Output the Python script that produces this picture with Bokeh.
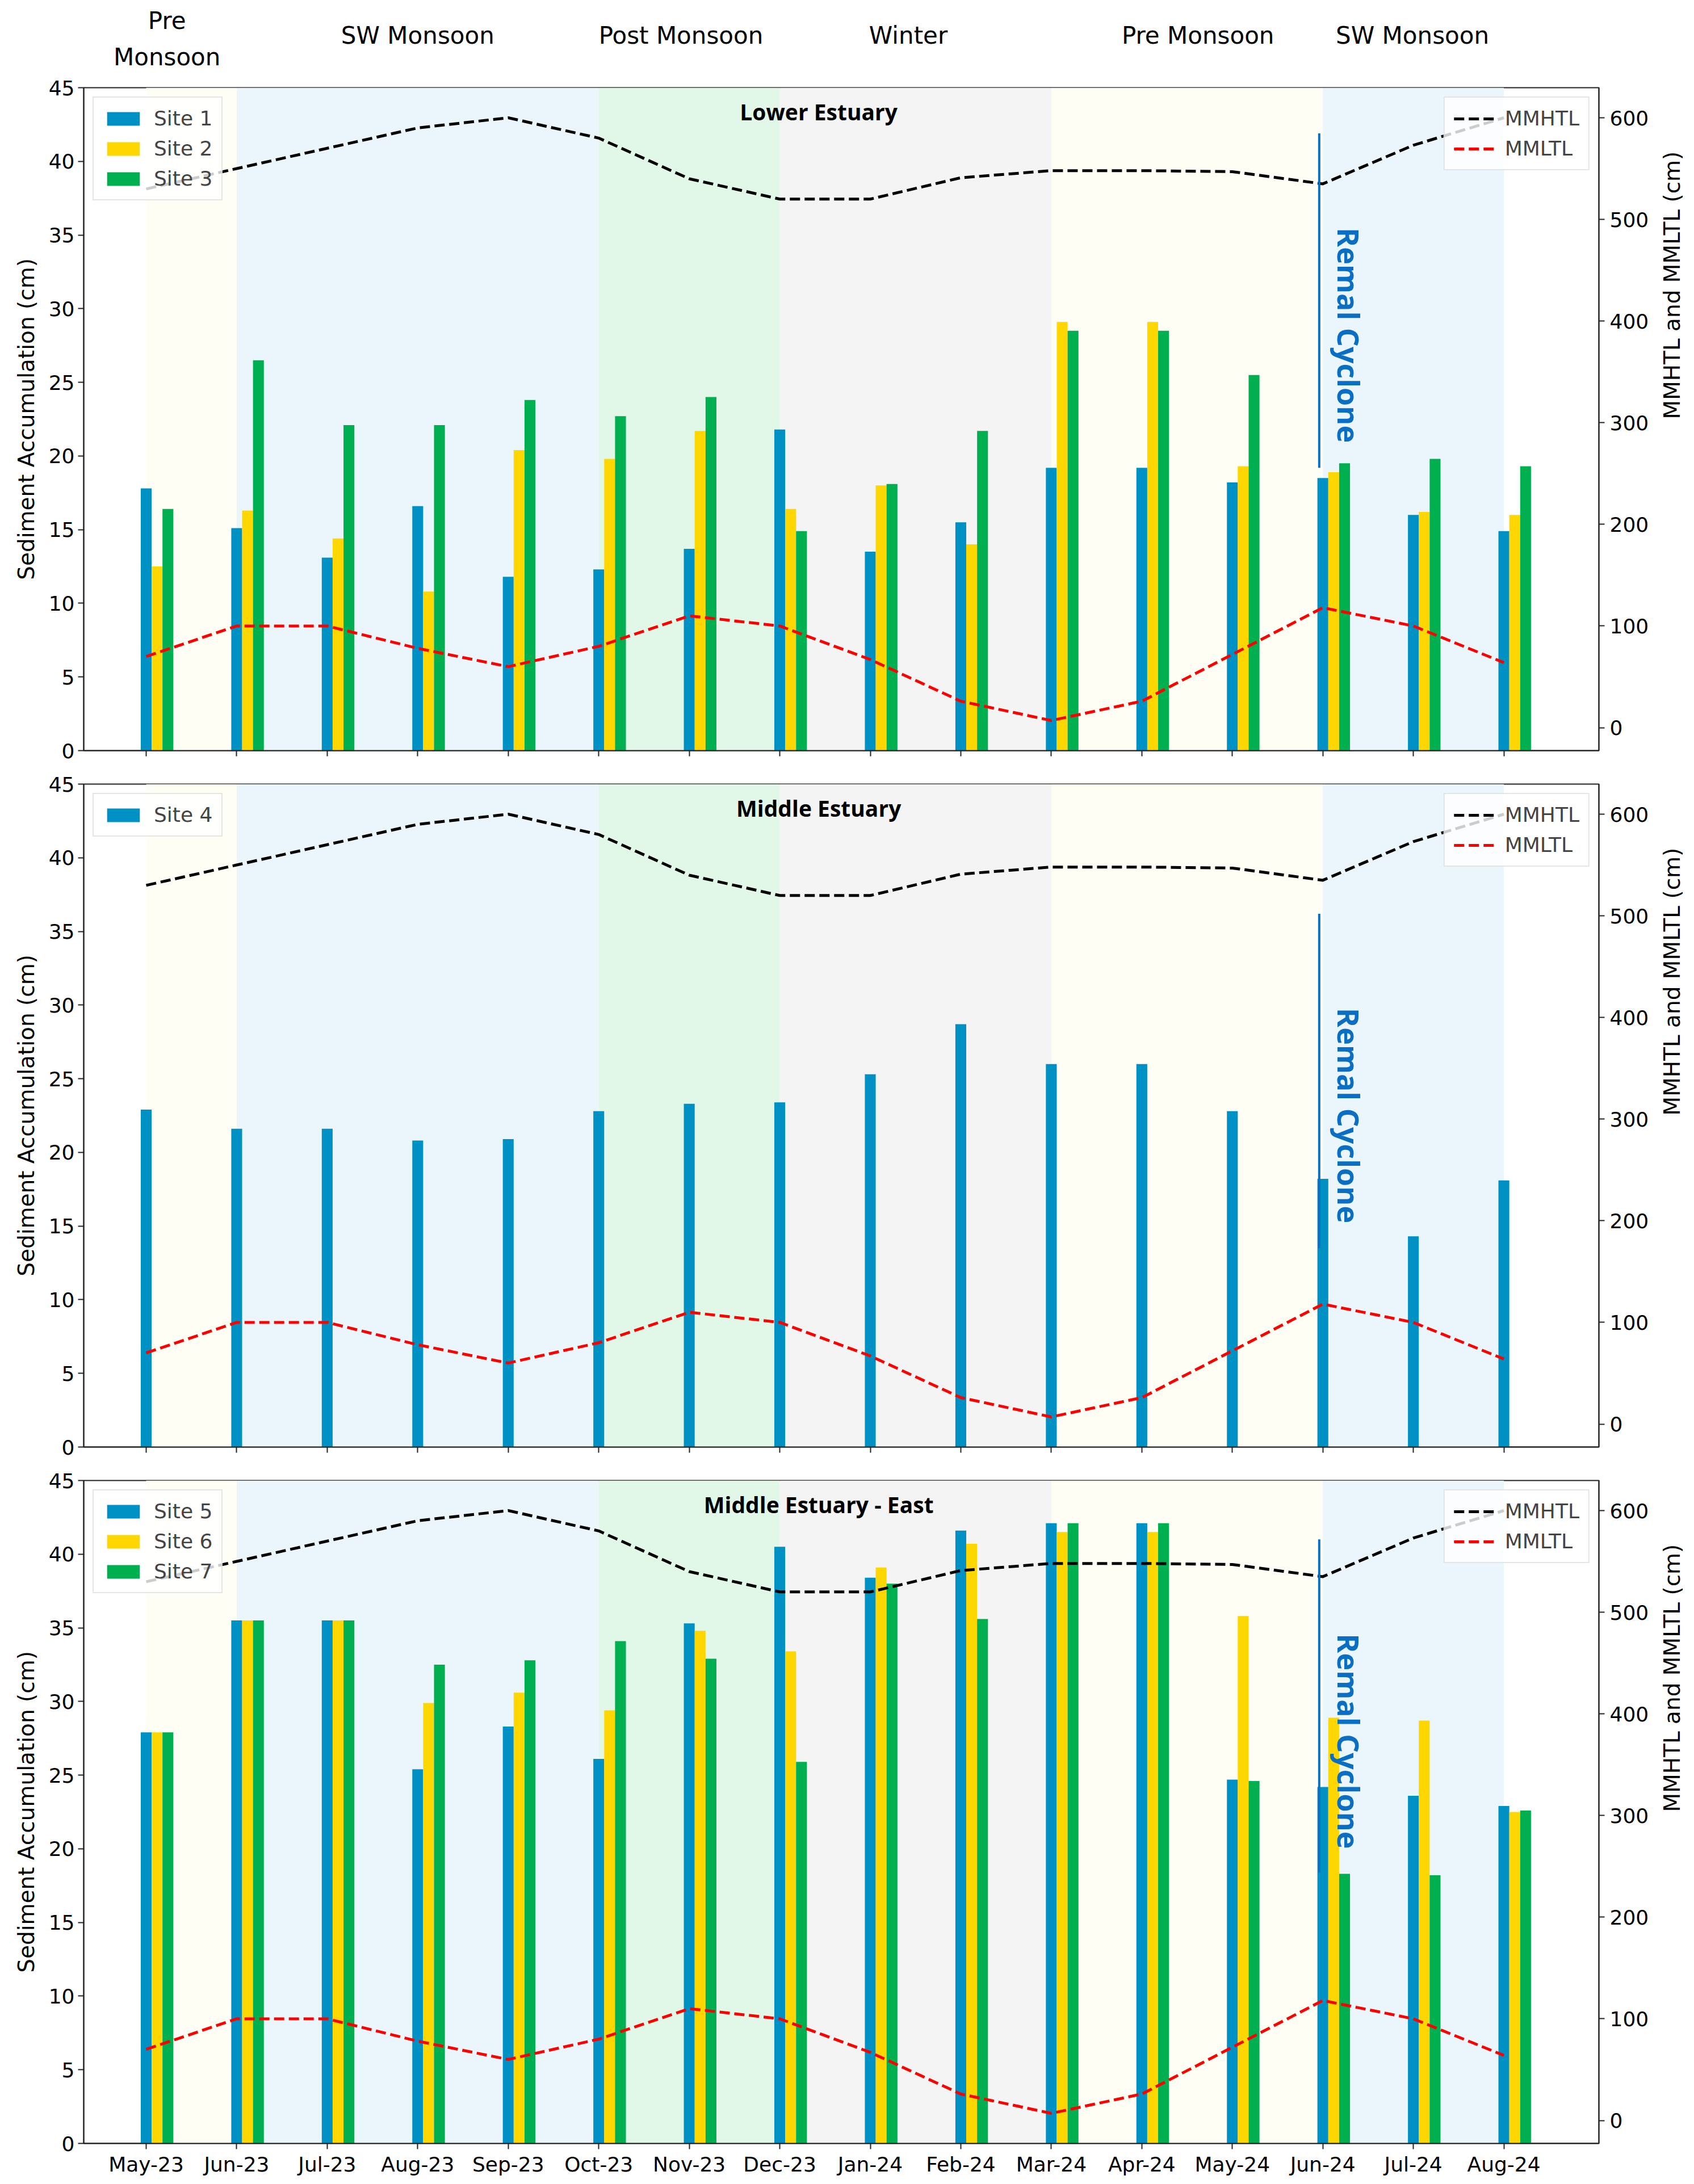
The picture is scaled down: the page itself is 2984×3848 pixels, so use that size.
from math import pi

from bokeh.core.properties import value
from bokeh.embed import file_html
from bokeh.layouts import column
from bokeh.models import (BoxAnnotation, CustomLabelingPolicy, FixedTicker, Label, Legend,
                          LegendItem, LinearAxis, Range1d)
from bokeh.plotting import figure
from bokeh.resources import INLINE

# ---- data ----
months = ["May-23", "Jun-23", "Jul-23", "Aug-23", "Sep-23", "Oct-23", "Nov-23", "Dec-23",
          "Jan-24", "Feb-24", "Mar-24", "Apr-24", "May-24", "Jun-24", "Jul-24", "Aug-24"]

mmhtl = [530, 550, 570, 590, 600, 580, 540, 520, 520, 541, 548, 548, 547, 535, 573, 600]
mmltl = [70, 100, 100, 78, 60, 80, 110, 100, 67, 26, 7, 26, 72, 118, 100, 64]

site1 = [17.8, 15.1, 13.1, 16.6, 11.8, 12.3, 13.7, 21.8, 13.5, 15.5, 19.2, 19.2, 18.2, 18.5, 16.0, 14.9]
site2 = [12.5, 16.3, 14.4, 10.8, 20.4, 19.8, 21.7, 16.4, 18.0, 14.0, 29.1, 29.1, 19.3, 18.9, 16.2, 16.0]
site3 = [16.4, 26.5, 22.1, 22.1, 23.8, 22.7, 24.0, 14.9, 18.1, 21.7, 28.5, 28.5, 25.5, 19.5, 19.8, 19.3]

site4 = [22.9, 21.6, 21.6, 20.8, 20.9, 22.8, 23.3, 23.4, 25.3, 28.7, 26.0, 26.0, 22.8, 18.2, 14.3, 18.1]

site5 = [27.9, 35.5, 35.5, 25.4, 28.3, 26.1, 35.3, 40.5, 38.4, 41.6, 42.1, 42.1, 24.7, 24.2, 23.6, 22.9]
site6 = [27.9, 35.5, 35.5, 29.9, 30.6, 29.4, 34.8, 33.4, 39.1, 40.7, 41.5, 41.5, 35.8, 28.9, 28.7, 22.5]
site7 = [27.9, 35.5, 35.5, 32.5, 32.8, 34.1, 32.9, 25.9, 38.0, 35.6, 42.1, 42.1, 24.6, 18.3, 18.2, 22.6]

panel_titles = ["Lower Estuary", "Middle Estuary", "Middle Estuary - East"]
panel_sites = [["Site 1", "Site 2", "Site 3"], ["Site 4"], ["Site 5", "Site 6", "Site 7"]]
panel_values = [[site1, site2, site3], [site4], [site5, site6, site7]]

season_names = ["Pre\nMonsoon", "SW Monsoon", "Post  Monsoon", "Winter", "Pre Monsoon", "SW Monsoon"]
season_start = ["May-23", "Jun-23", "Oct-23", "Dec-23", "Mar-24", "Jun-24"]
season_end = ["Jun-23", "Oct-23", "Dec-23", "Mar-24", "Jun-24", "Aug-24"]
season_label_x = [0.23, 3.0, 5.95, 8.42, 11.62, 13.99]
season_colors = ["#fefef4", "#eaf6fb", "#e1f8e8", "#f4f4f4", "#fefef4", "#eaf6fb"]

cyclone_month = "Jun-24"
cyclone_low = [19.2, 13.5, 18.4]
cyclone_high = [41.9, 36.2, 41.0]
cyclone_text_y = [28.2, 22.5, 27.3]

site_colors = ["#0091c4", "#ffd700", "#00b050"]
BAR_W = 0.12
FONT = "DejaVu Sans"
FRAME_W = 2669
FRAME_H = 1168
X_RANGE = Range1d(-0.69, 16.05)

xs = list(range(len(months)))


def season_header():
    # strip above the first panel holding the season names
    h = figure(x_range=X_RANGE, y_range=Range1d(0, 130),
               frame_width=FRAME_W, frame_height=130,
               min_border_left=147, min_border_right=150, min_border_top=0,
               min_border_bottom=0, x_axis_type=None, y_axis_type=None,
               output_backend="svg", toolbar_location=None)
    h.outline_line_color = None
    h.xgrid.visible = False
    h.ygrid.visible = False
    ys = [62 if "\n" in n else 68 for n in season_names]
    h.text(x=season_label_x, y=ys, text=season_names, text_font=value(FONT),
           text_font_size="42px", text_color="black", text_align="center",
           text_baseline="middle", text_line_height=1.3)
    return h


def make_panel(i):
    top_border = 24 if i == 0 else 32
    bottom_border = 55 if i == 2 else 25
    p = figure(x_range=X_RANGE, y_range=Range1d(0, 45),
               frame_width=FRAME_W, frame_height=FRAME_H,
               min_border_left=147, min_border_right=150,
               min_border_top=top_border, min_border_bottom=bottom_border,
               output_backend="svg", toolbar_location=None)
    p.xgrid.visible = False
    p.ygrid.visible = False
    p.outline_line_color = "#222222"
    p.outline_line_width = 2
    p.extra_y_ranges = {"tide": Range1d(-22.6, 629.6)}

    # season shading
    for s, e, c in zip(season_start, season_end, season_colors):
        p.add_layout(BoxAnnotation(left=months.index(s), right=months.index(e),
                                   fill_color=c, fill_alpha=1.0, line_color=None,
                                   level="underlay"))

    # bars
    bar_items = []
    for k, (name, vals) in enumerate(zip(panel_sites[i], panel_values[i])):
        r = p.vbar(x=[x + k * BAR_W for x in xs], top=vals, bottom=0, width=BAR_W,
                   fill_color=site_colors[k], line_color=None)
        bar_items.append(LegendItem(label=name, renderers=[r]))

    # tide lines
    r_h = p.line(xs, mmhtl, y_range_name="tide", line_color="black", line_width=5,
                 line_dash="18 8")
    r_l = p.line(xs, mmltl, y_range_name="tide", line_color="#ff0000", line_width=5,
                 line_dash="18 8")

    # cyclone marker
    cx = months.index(cyclone_month) - 0.04
    p.segment(x0=[cx], y0=[cyclone_low[i]], x1=[cx], y1=[cyclone_high[i]],
              line_color="#0a6fc2", line_width=4)
    p.text(x=[months.index(cyclone_month) + 0.29], y=[cyclone_text_y[i]], text=["Remal Cyclone"],
           angle=-pi / 2, text_font=value("Open Sans"), text_font_style="bold",
           text_font_size="52px", text_color="#0a6fc2", text_align="center",
           text_baseline="middle")

    # panel title
    p.add_layout(Label(x=7.43, y=43.4, text=panel_titles[i], text_font="Open Sans",
                       text_font_style="bold", text_font_size="39px", text_color="black",
                       text_align="center", text_baseline="middle"))

    # axes
    p.yaxis.ticker = FixedTicker(ticks=list(range(0, 46, 5)))
    p.yaxis.axis_label = "Sediment Accumulation (cm)"
    right = LinearAxis(y_range_name="tide", axis_label="MMHTL and MMLTL (cm)",
                       ticker=FixedTicker(ticks=list(range(0, 601, 100))),
                       axis_label_orientation=pi / 2)
    p.add_layout(right, "right")
    p.xaxis.ticker = FixedTicker(ticks=xs)
    if i == 2:
        p.xaxis.major_label_overrides = {x: m for x, m in zip(xs, months)}
        p.xaxis.major_label_text_font_size = "36px"
    else:
        # ticks only, no month names on the upper panels
        p.xaxis.major_label_text_font_size = "10px"
        p.xaxis.major_label_policy = CustomLabelingPolicy(code="return []")
    for ax in p.xaxis + p.yaxis:
        ax.axis_line_color = "#222222"
        ax.axis_line_width = 2
        ax.major_tick_line_color = "#222222"
        ax.major_tick_line_width = 2
        ax.major_tick_in = 0
        ax.major_tick_out = 10
        ax.minor_tick_line_color = None
        ax.major_label_text_font = FONT
        ax.major_label_text_color = "black"
        ax.axis_label_text_font = FONT
        ax.axis_label_text_font_size = "39px"
        ax.axis_label_text_font_style = "normal"
        ax.axis_label_text_color = "black"
        ax.major_label_standoff = 6
    for ax in p.yaxis:
        ax.major_label_text_font_size = "36px"
        ax.axis_label_standoff = 14
    right.major_label_standoff = 9
    right.axis_label_standoff = 38

    # legends
    leg_bars = Legend(items=bar_items, location="top_left")
    leg_lines = Legend(items=[LegendItem(label="MMHTL", renderers=[r_h]),
                              LegendItem(label="MMLTL", renderers=[r_l])],
                       location="top_right")
    for lg in (leg_bars, leg_lines):
        lg.label_text_font = FONT
        lg.label_text_font_size = "36px"
        lg.glyph_width = 72
        lg.glyph_height = 30
        lg.label_height = 36
        lg.label_standoff = 18
        lg.spacing = 12
        lg.padding = 16
        lg.margin = 16
        lg.border_line_color = "#cccccc"
        lg.border_line_width = 2
        lg.background_fill_alpha = 0.8
        p.add_layout(lg)
    return p


layout = column(season_header(), *[make_panel(i) for i in range(3)], spacing=0)

with open("out.html", "w") as f:
    f.write(file_html(layout, INLINE))
